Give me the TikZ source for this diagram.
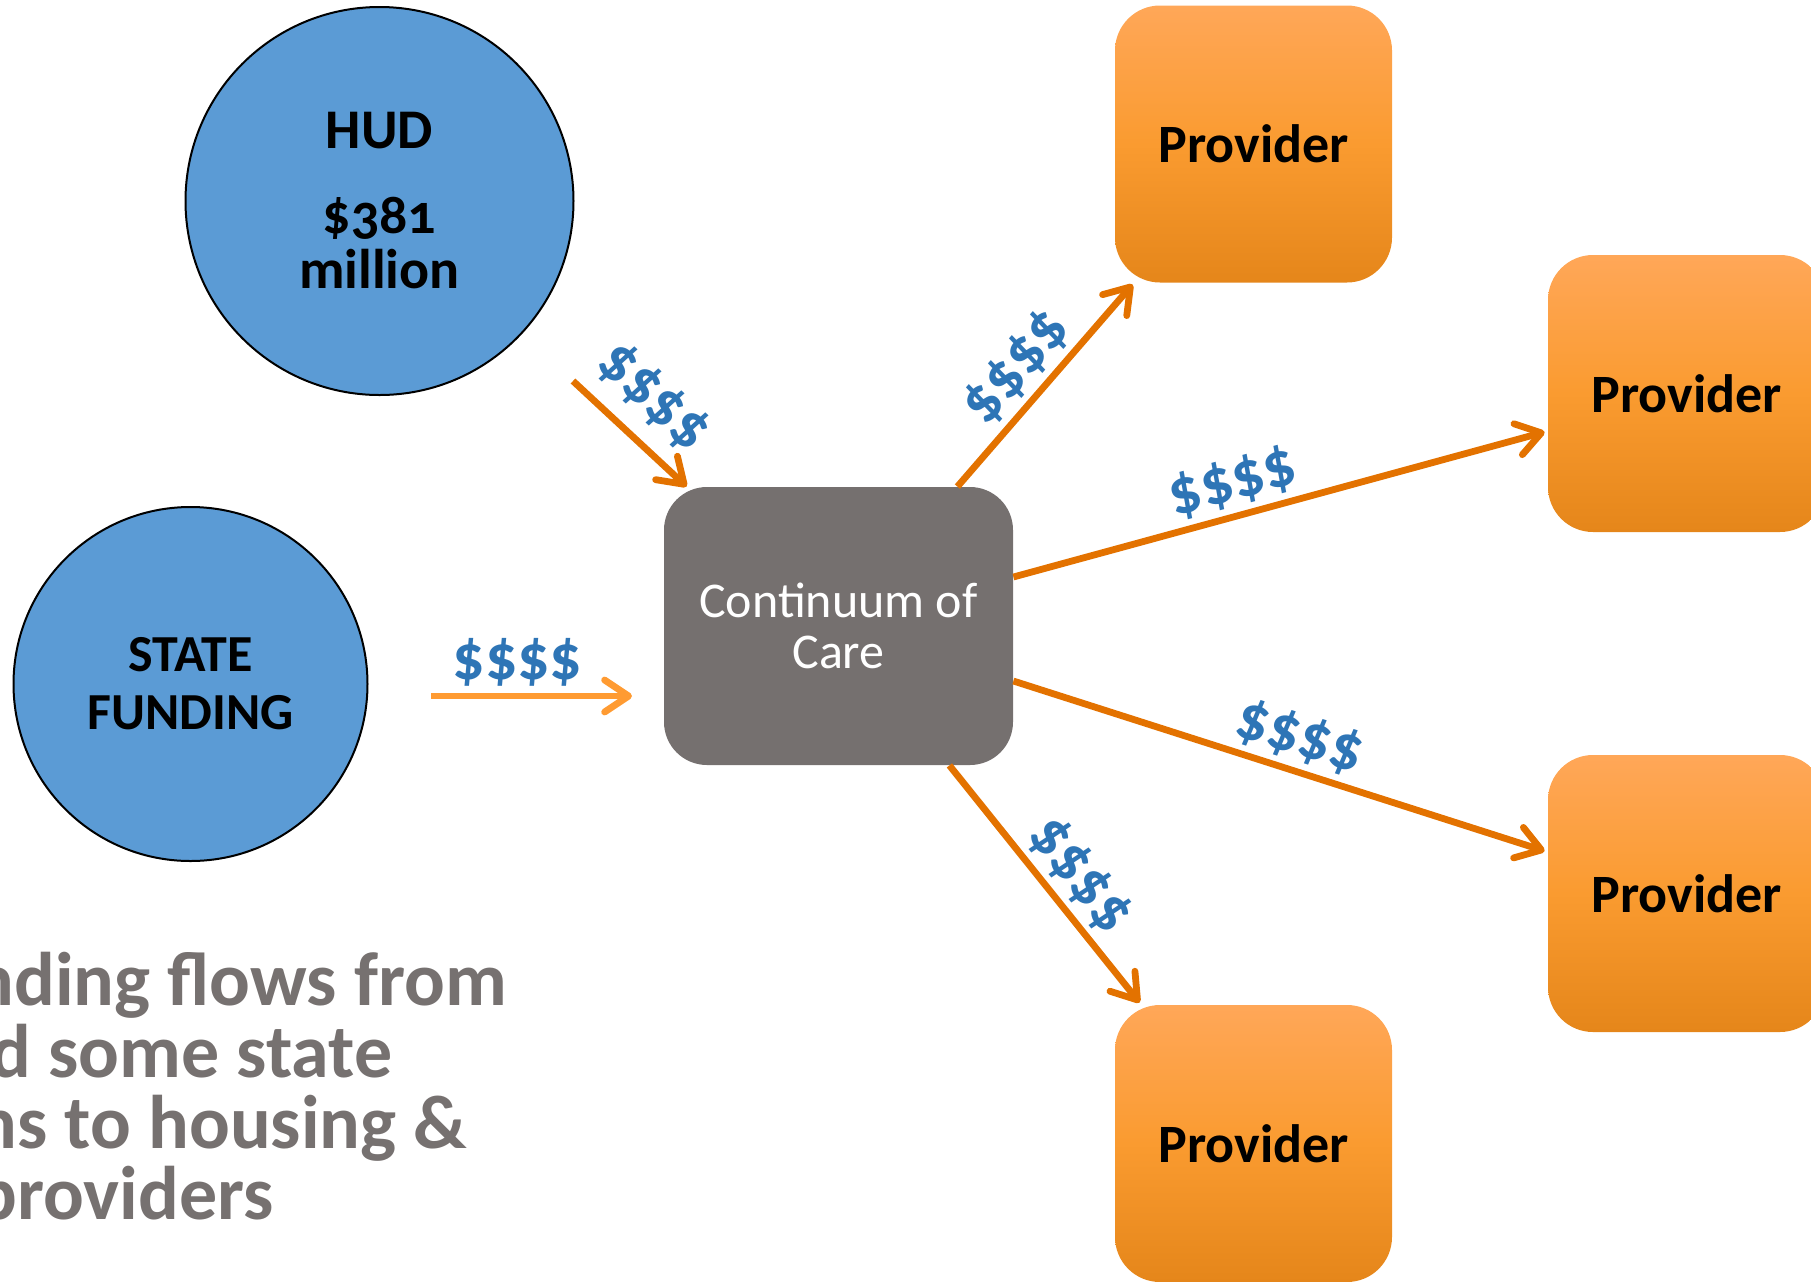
\documentclass[tikz,border=0pt]{standalone}
\usepackage{fontspec}
\setmainfont{Carlito}
\usetikzlibrary{arrows.meta,calc,positioning}
\definecolor{hudblue}{RGB}{91,155,213}
\definecolor{cocgray}{RGB}{117,112,111}
\definecolor{provtop}{RGB}{255,167,88}
\definecolor{provmid}{RGB}{250,155,48}
\definecolor{provbot}{RGB}{229,134,26}
\definecolor{flowor}{RGB}{227,114,0}
\definecolor{stateor}{RGB}{255,155,50}
\definecolor{dollarblue}{RGB}{46,117,182}
\definecolor{notegray}{RGB}{118,113,112}

\begin{document}
\begin{tikzpicture}[x=0.5pt, y=-0.5pt,
  source/.style = {draw, circle, fill=hudblue, line width=1pt, align=center, inner sep=0pt},
  cocbox/.style = {fill=cocgray, rounded corners=21.5pt, minimum width=174.5pt, minimum height=139pt, text=white, align=center, font=\fontsize{25}{25.5}\selectfont},
  provider/.style = {rounded corners=22.5pt, minimum width=138.5pt, minimum height=138.5pt, top color=provtop, bottom color=provbot, middle color=provmid, font=\fontsize{27}{27}\selectfont\bfseries},
  flow/.style = {draw=flowor, line width=3.4pt, -{Straight Barb[length=12pt,width=16pt,round]}},
  cash/.style = {text=dollarblue, font=\fontsize{32}{32}\selectfont\bfseries, sloped, above=1pt, inner sep=2pt},
  note/.style = {anchor=base west, text=notegray, font=\fontsize{38}{38}\selectfont\bfseries, inner sep=0pt}]
  \clip (0,0) rectangle (1811,1281);

  % funding sources
  \node[source, minimum size=194pt, font=\fontsize{28}{27.5}\selectfont\bfseries] (hud) at (379.5,201) {HUD\\[15pt]\addfontfeatures{Numbers=OldStyle}\$381\\million};
  \node[source, minimum size=177pt, font=\fontsize{26}{29}\selectfont\bfseries] (state) at (190.5,684) {STATE\\FUNDING};

  \node[cocbox] (coc) at (838.5,626) {Continuum of\\Care};

  % providers
  \node[provider] (p1) at (1253.5,144) {Provider};
  \node[provider] (p2) at (1686.5,393.5) {Provider};
  \node[provider] (p3) at (1686.5,893.5) {Provider};
  \node[provider] (p4) at (1253.5,1143.5) {Provider};

  \coordinate (hudout) at (573,381);
  \coordinate (statebase) at (431,696);
  \coordinate (statetip) at (632,696);

  \draw[flow] (hudout) -- node[cash, pos=.45, above=6pt] {\$\$\$\$} ($(coc.north west)+(23,0)$);
  \draw[flow, draw=stateor] (statebase) -- node[cash, pos=.43] {\$\$\$\$} (statetip);
  \draw[flow] ($(coc.north east)+(-56,0)$) -- node[cash, pos=.48] {\$\$\$\$} ($(p1.south west)+(18,1.5)$);
  \draw[flow] ($(coc.east)+(0,-49)$) -- node[cash, pos=.43] {\$\$\$\$} ($(p2.west)+(-3,38.5)$);
  \draw[flow] ($(coc.east)+(0,55)$) -- node[cash, pos=.52] {\$\$\$\$} ($(p3.west)+(-3,-42.5)$);
  \draw[flow] ($(coc.south east)+(-64,0)$) -- node[cash, pos=.55] {\$\$\$\$} ($(p4.north west)+(25,-2)$);

  % note, cut off at the left edge
  \node[note] (n1) at (-27,1005) {nding flows from};
  \node[note] (n2) at (-10,1077) {d some state};
  \node[note] (n3) at (-24,1148) {ns to housing \&};
  \node[note] (n4) at (-24,1219) {providers};
\end{tikzpicture}
\end{document}
